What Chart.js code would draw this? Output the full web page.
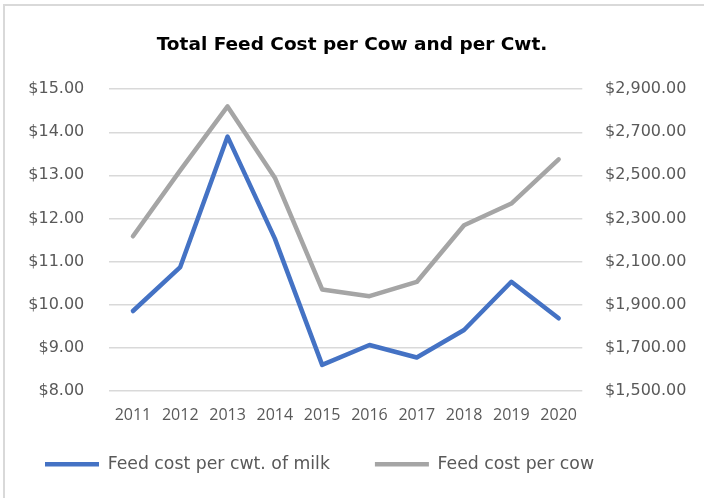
<!DOCTYPE html>
<html><head><meta charset="utf-8">
<script src="https://cdn.jsdelivr.net/npm/chart.js@4.4.1/dist/chart.umd.min.js"></script>
<style>html,body{margin:0;padding:0;background:#fff;}#wrap{width:704px;height:498px;}</style>
</head><body><div id="wrap"><canvas id="c" width="704" height="498"></canvas></div>
<script>
const years = ['2011','2012','2013','2014','2015','2016','2017','2018','2019','2020'];
const costPerCwt = [9.85, 10.87, 13.90, 11.53, 8.60, 9.06, 8.77, 9.41, 10.53, 9.68];
const costPerCow = [2217, 2523, 2820, 2489, 1970, 1939, 2005, 2268, 2369, 2574];
const seriesNames = ['Feed cost per cwt. of milk', 'Feed cost per cow'];
const chartTitle = 'Total Feed Cost per Cow and per Cwt.';
const leftAxis = {min: 8, max: 15, step: 1};
const rightAxis = {min: 1500, max: 2900, step: 200};

const FAM = "'DejaVu Sans', sans-serif";
const FAM_X = "'Open Sans', sans-serif";
const TXT = '#595959';
function money(v) {
  const parts = Number(v).toFixed(2).split('.');
  parts[0] = parts[0].replace(/\B(?=(\d{3})+(?!\d))/g, ',');
  return '$' + parts.join('.');
}
const frame = {
  id: 'frame',
  beforeDraw(chart) {
    const ctx = chart.ctx;
    ctx.save();
    ctx.fillStyle = '#fff';
    ctx.fillRect(0, 0, chart.width, chart.height);
    ctx.fillStyle = '#d9d9d9';
    ctx.fillRect(3, 4, 2, chart.height - 4);
    ctx.fillRect(3, 4, chart.width - 3, 2);
    ctx.restore();
  }
};
const legendShift = {
  id: 'legendShift',
  afterLayout(chart) {
    if (chart.legend) { chart.legend.top -= 11; chart.legend.bottom -= 11; }
  }
};
new Chart(document.getElementById('c'), {
  type: 'line',
  data: {
    labels: years,
    datasets: [
      {label: seriesNames[0], data: costPerCwt, yAxisID: 'y', borderColor: '#4472C4', backgroundColor: '#4472C4',
       borderWidth: 4.5, pointRadius: 0, borderCapStyle: 'round', borderJoinStyle: 'round', tension: 0},
      {label: seriesNames[1], data: costPerCow, yAxisID: 'y1', borderColor: '#A5A5A5', backgroundColor: '#A5A5A5',
       borderWidth: 4.5, pointRadius: 0, borderCapStyle: 'round', borderJoinStyle: 'round', tension: 0}
    ]
  },
  options: {
    responsive: false, animation: false, devicePixelRatio: 1,
    layout: {padding: {left: 0, right: 0, top: 0, bottom: 4}},
    plugins: {
      title: {display: true, text: chartTitle, color: '#000',
        font: {family: FAM, size: 18.5, weight: 'bold'}, padding: {top: 34, bottom: 33}},
      legend: {position: 'bottom', align: 'start',
        labels: {usePointStyle: true, pointStyle: 'line', pointStyleWidth: 54, padding: 45, color: TXT,
          font: {family: FAM, size: 17.3}}},
      tooltip: {enabled: false}
    },
    scales: {
      x: {offset: true, grid: {display: false, drawTicks: false}, border: {display: false},
        ticks: {color: TXT, font: {family: FAM_X, size: 16}, padding: 15, maxRotation: 0, autoSkip: false},
        afterFit(s) { s.height = 31; }},
      y: {position: 'left', min: leftAxis.min, max: leftAxis.max,
        ticks: {stepSize: leftAxis.step, padding: 25, color: TXT, font: {family: FAM, size: 16}, callback: v => money(v)},
        grid: {color: '#d9d9d9', lineWidth: 1.5, drawTicks: false}, border: {display: false},
        afterFit(s) { s.width = 109.3; }},
      y1: {position: 'right', min: rightAxis.min, max: rightAxis.max,
        ticks: {stepSize: rightAxis.step, padding: 22.7, color: TXT, font: {family: FAM, size: 16}, callback: v => money(v)},
        grid: {display: false, drawTicks: false}, border: {display: false},
        afterFit(s) { s.width = 121.7; }}
    }
  },
  plugins: [frame, legendShift]
});
</script></body></html>
